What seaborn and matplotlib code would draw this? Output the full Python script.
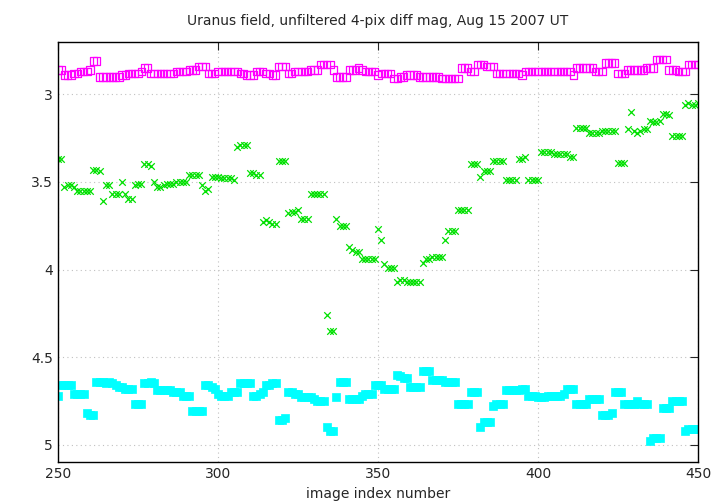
import matplotlib
matplotlib.use("Agg")
import matplotlib.pyplot as plt
import seaborn as sns
import pandas as pd
import numpy as np

magenta = [2.86,2.86,2.89,2.89,2.89,2.88,2.88,2.87,2.87,2.87,
2.86,2.81,2.81,2.90,2.90,2.90,2.90,2.90,2.90,2.90,
2.89,2.89,2.88,2.88,2.88,2.88,2.87,2.85,2.85,2.88,
2.88,2.88,2.88,2.88,2.88,2.88,2.88,2.87,2.87,2.87,
2.87,2.86,2.86,2.86,2.84,2.84,2.84,2.88,2.88,2.88,
2.87,2.87,2.87,2.87,2.87,2.87,2.87,2.88,2.88,2.89,
2.89,2.89,2.87,2.87,2.87,2.88,2.88,2.89,2.89,2.84,
2.84,2.84,2.88,2.88,2.87,2.87,2.87,2.87,2.87,2.86,
2.86,2.86,2.83,2.83,2.83,2.83,2.86,2.90,2.90,2.90,
2.90,2.86,2.86,2.86,2.85,2.86,2.87,2.87,2.87,2.87,
2.89,2.88,2.88,2.88,2.88,2.91,2.91,2.90,2.90,2.89,
2.89,2.89,2.89,2.90,2.90,2.90,2.90,2.90,2.90,2.90,
2.91,2.91,2.91,2.91,2.91,2.91,2.85,2.85,2.85,2.87,
2.87,2.83,2.83,2.83,2.84,2.84,2.84,2.88,2.88,2.88,
2.88,2.88,2.88,2.88,2.88,2.89,2.87,2.87,2.87,2.87,
2.87,2.87,2.87,2.87,2.87,2.87,2.87,2.87,2.87,2.87,
2.87,2.89,2.85,2.85,2.85,2.85,2.85,2.85,2.87,2.87,
2.87,2.82,2.82,2.82,2.82,2.88,2.88,2.88,2.86,2.86,
2.86,2.86,2.86,2.86,2.85,2.85,2.85,2.80,2.80,2.80,
2.80,2.86,2.86,2.86,2.87,2.87,2.87,2.83,2.83,2.83,
2.83]

green = [3.37,3.37,3.53,3.52,3.52,3.53,3.55,3.55,3.55,3.55,
3.55,3.43,3.43,3.44,3.61,3.52,3.52,3.57,3.57,3.57,
3.50,3.57,3.60,3.60,3.52,3.51,3.51,3.40,3.40,3.41,
3.50,3.53,3.53,3.52,3.51,3.51,3.51,3.50,3.50,3.50,
3.50,3.46,3.46,3.46,3.46,3.52,3.55,3.54,3.47,3.47,
3.47,3.48,3.48,3.48,3.48,3.49,3.30,3.29,3.29,3.29,
3.45,3.45,3.46,3.46,3.73,3.72,3.73,3.74,3.74,3.38,
3.38,3.38,3.68,3.67,3.67,3.66,3.71,3.71,3.71,3.57,
3.57,3.57,3.57,3.57,4.26,4.35,4.35,3.71,3.75,3.75,
3.75,3.87,3.89,3.90,3.90,3.94,3.94,3.94,3.94,3.94,
3.77,3.83,3.97,3.99,3.99,3.99,4.07,4.06,4.06,4.07,
4.07,4.07,4.07,4.07,3.96,3.94,3.94,3.93,3.93,3.93,
3.93,3.83,3.78,3.78,3.78,3.66,3.66,3.66,3.66,3.40,
3.40,3.40,3.47,3.44,3.44,3.44,3.38,3.38,3.38,3.38,
3.49,3.49,3.49,3.49,3.37,3.37,3.36,3.49,3.49,3.49,
3.49,3.33,3.33,3.33,3.33,3.34,3.34,3.34,3.34,3.34,
3.36,3.36,3.19,3.19,3.19,3.19,3.22,3.22,3.22,3.22,
3.21,3.21,3.21,3.21,3.21,3.39,3.39,3.39,3.20,3.10,
3.21,3.22,3.21,3.20,3.20,3.15,3.16,3.16,3.15,3.11,
3.11,3.12,3.24,3.24,3.24,3.24,3.06,3.05,3.06,3.06,
3.05]

cyan = [4.72,4.66,4.66,4.66,4.66,4.71,4.71,4.71,4.71,4.82,
4.83,4.83,4.64,4.64,4.64,4.65,4.64,4.65,4.66,4.67,
4.67,4.68,4.68,4.68,4.77,4.77,4.77,4.65,4.65,4.64,
4.65,4.69,4.69,4.69,4.69,4.69,4.70,4.70,4.70,4.72,
4.72,4.72,4.81,4.81,4.81,4.81,4.66,4.66,4.67,4.68,
4.71,4.72,4.72,4.72,4.70,4.70,4.70,4.65,4.65,4.65,
4.65,4.72,4.72,4.71,4.70,4.66,4.66,4.65,4.65,4.86,
4.86,4.85,4.70,4.70,4.71,4.71,4.73,4.73,4.73,4.73,
4.74,4.75,4.75,4.75,4.90,4.92,4.92,4.73,4.64,4.64,
4.64,4.74,4.74,4.74,4.74,4.72,4.71,4.71,4.71,4.66,
4.66,4.66,4.68,4.68,4.68,4.68,4.60,4.61,4.62,4.62,
4.67,4.67,4.67,4.67,4.58,4.58,4.58,4.63,4.63,4.63,
4.63,4.64,4.64,4.64,4.64,4.77,4.77,4.77,4.77,4.70,
4.70,4.70,4.90,4.87,4.87,4.87,4.78,4.77,4.77,4.77,
4.69,4.69,4.69,4.69,4.69,4.68,4.68,4.72,4.72,4.72,
4.73,4.73,4.73,4.72,4.72,4.72,4.72,4.72,4.71,4.68,
4.68,4.68,4.77,4.77,4.77,4.77,4.74,4.74,4.74,4.74,
4.83,4.83,4.83,4.82,4.70,4.70,4.70,4.77,4.77,4.77,
4.77,4.75,4.77,4.77,4.77,4.98,4.96,4.96,4.96,4.79,
4.79,4.79,4.75,4.75,4.75,4.75,4.92,4.91,4.91,4.91,
4.91]

index = list(range(250, 250 + len(magenta)))

sns.set_style("white")
plt.rcParams['font.family'] = ['DejaVu Sans']
fig = plt.figure(figsize=(7.2, 5.04), dpi=100)
ax = fig.add_axes([0.0806, 0.083, 0.8888, 0.834])

df_m = pd.DataFrame({"x": index, "y": magenta})
df_g = pd.DataFrame({"x": index, "y": green})
df_c = pd.DataFrame({"x": index, "y": cyan})

sns.scatterplot(data=df_m, x="x", y="y", ax=ax, marker="s", s=28,
                facecolors="none", edgecolor="#ff00ff", linewidth=0.9)
sns.scatterplot(data=df_g, x="x", y="y", ax=ax, marker="x", s=22,
                color="#00e000", linewidth=0.9)
sns.scatterplot(data=df_c, x="x", y="y", ax=ax, marker="s", s=30,
                color="#00ffff", edgecolor="#00ffff", linewidth=0.5)

ax.set_xlim(250, 450)
ax.set_ylim(5.1, 2.7)
ax.set_xticks([250, 300, 350, 400, 450])
ax.set_yticks([3, 3.5, 4, 4.5, 5])
ax.set_yticklabels(["3", "3.5", "4", "4.5", "5"])
ax.grid(True, color="#c0c0c0", linestyle=(0, (1, 3)), linewidth=0.8)
ax.tick_params(direction="in", length=6, labelsize=10, top=True, right=True)
for sp in ax.spines.values():
    sp.set_color("black")
    sp.set_linewidth(1)
ax.set_xlabel("image index number", fontsize=10)
ax.set_ylabel("")
ax.set_title("Uranus field, unfiltered 4-pix diff mag, Aug 15 2007 UT", fontsize=10, pad=12)

fig.savefig("out.png", dpi=100)
